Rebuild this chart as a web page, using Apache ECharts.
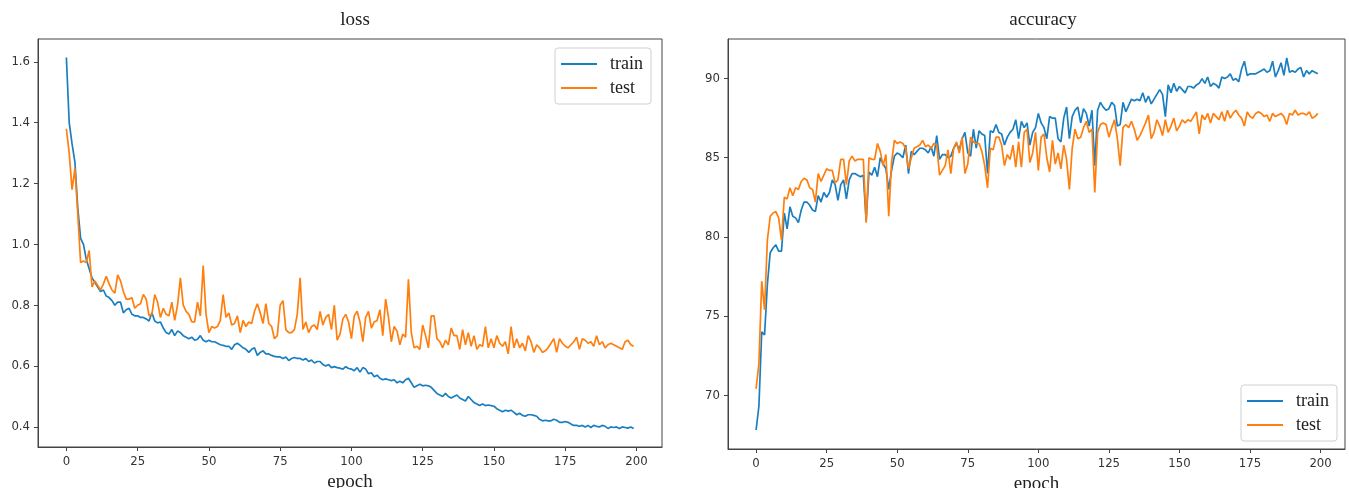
<!DOCTYPE html>
<html>
<head>
<meta charset="utf-8">
<script src="https://cdn.jsdelivr.net/npm/echarts@6/dist/echarts.min.js"></script>
<style>
  html, body { margin: 0; padding: 0; background: #fff; }
  #main { width: 1349px; height: 488px; }
</style>
</head>
<body>
<div id="main"></div>
<script>
// loss, epoch 0..199
var lossTrain = [
  1.614, 1.40, 1.33, 1.27, 1.12, 1.02, 1.00, 0.95, 0.92, 0.89,
  0.875, 0.86, 0.845, 0.85, 0.83, 0.825, 0.815, 0.80, 0.81, 0.81,
  0.775, 0.785, 0.79, 0.77, 0.765, 0.765, 0.76, 0.76, 0.755, 0.748,
  0.775, 0.748, 0.742, 0.745, 0.725, 0.71, 0.705, 0.72, 0.70, 0.715,
  0.71, 0.70, 0.695, 0.69, 0.695, 0.685, 0.688, 0.70, 0.685, 0.68,
  0.685, 0.68, 0.68, 0.675, 0.67, 0.668, 0.665, 0.665, 0.655, 0.67,
  0.675, 0.668, 0.66, 0.655, 0.645, 0.655, 0.66, 0.635, 0.645, 0.65,
  0.64, 0.64, 0.635, 0.632, 0.63, 0.63, 0.625, 0.63, 0.618, 0.625,
  0.628, 0.625, 0.625, 0.62, 0.625, 0.615, 0.62, 0.61, 0.615, 0.615,
  0.605, 0.60, 0.605, 0.595, 0.598, 0.595, 0.593, 0.59, 0.598, 0.592,
  0.59, 0.585, 0.595, 0.58, 0.595, 0.59, 0.575, 0.578, 0.565, 0.57,
  0.56, 0.555, 0.558, 0.555, 0.552, 0.555, 0.545, 0.55, 0.545, 0.555,
  0.56, 0.545, 0.53, 0.535, 0.54, 0.535, 0.537, 0.535, 0.53, 0.52,
  0.51, 0.505, 0.50, 0.51, 0.50, 0.495, 0.50, 0.505, 0.495, 0.49,
  0.485, 0.50, 0.49, 0.48, 0.475, 0.47, 0.475, 0.47, 0.472, 0.47,
  0.468, 0.46, 0.455, 0.45, 0.455, 0.452, 0.455, 0.448, 0.44, 0.445,
  0.438, 0.435, 0.44, 0.44, 0.438, 0.435, 0.425, 0.42, 0.422, 0.42,
  0.42, 0.425, 0.422, 0.415, 0.415, 0.418, 0.415, 0.41, 0.405, 0.405,
  0.402, 0.405, 0.40, 0.405, 0.398, 0.405, 0.402, 0.40, 0.405, 0.402,
  0.395, 0.40, 0.398, 0.40, 0.395, 0.40, 0.398, 0.396, 0.40, 0.395
];
var lossTest = [
  1.38, 1.30, 1.18, 1.25, 1.10, 0.94, 0.945, 0.94, 0.98, 0.86,
  0.88, 0.865, 0.85, 0.87, 0.895, 0.87, 0.85, 0.84, 0.90, 0.88,
  0.845, 0.82, 0.82, 0.825, 0.79, 0.80, 0.805, 0.835, 0.82, 0.765,
  0.77, 0.835, 0.81, 0.76, 0.79, 0.77, 0.765, 0.81, 0.75, 0.80,
  0.89, 0.80, 0.78, 0.77, 0.745, 0.745, 0.81, 0.765, 0.93, 0.77,
  0.71, 0.73, 0.725, 0.73, 0.75, 0.835, 0.76, 0.775, 0.735, 0.74,
  0.765, 0.71, 0.75, 0.73, 0.745, 0.74, 0.78, 0.805, 0.775, 0.74,
  0.805, 0.74, 0.73, 0.69, 0.70, 0.80, 0.815, 0.72, 0.71, 0.71,
  0.72, 0.77, 0.89, 0.72, 0.745, 0.71, 0.73, 0.735, 0.72, 0.78,
  0.735, 0.76, 0.77, 0.72, 0.80, 0.685, 0.705, 0.755, 0.77, 0.745,
  0.69, 0.765, 0.78, 0.745, 0.68, 0.76, 0.78, 0.725, 0.745, 0.75,
  0.785, 0.70, 0.82, 0.76, 0.68, 0.73, 0.715, 0.67, 0.705, 0.695,
  0.885, 0.71, 0.66, 0.665, 0.655, 0.735, 0.70, 0.66, 0.765, 0.765,
  0.69, 0.68, 0.66, 0.685, 0.67, 0.725, 0.70, 0.70, 0.655, 0.72,
  0.67, 0.71, 0.665, 0.70, 0.655, 0.67, 0.665, 0.73, 0.66, 0.69,
  0.66, 0.70, 0.675, 0.665, 0.68, 0.64, 0.73, 0.66, 0.69, 0.66,
  0.675, 0.65, 0.70, 0.68, 0.645, 0.67, 0.66, 0.645, 0.65, 0.66,
  0.675, 0.69, 0.645, 0.69, 0.675, 0.665, 0.66, 0.67, 0.68, 0.695,
  0.655, 0.69, 0.685, 0.675, 0.68, 0.665, 0.70, 0.67, 0.68, 0.66,
  0.67, 0.675, 0.67, 0.665, 0.66, 0.655, 0.68, 0.685, 0.67, 0.665
];
// accuracy, epoch 0..199
var accTrain = [
  67.8, 69.3, 74.0, 73.8, 77.0, 79.0, 79.3, 79.5, 79.1, 79.1,
  81.5, 80.5, 81.9, 81.3, 81.2, 80.9, 81.7, 82.2, 82.2, 82.0,
  81.7, 81.6, 82.6, 82.2, 82.8, 82.5, 82.8, 83.6, 83.3, 82.3,
  83.3, 83.6, 82.4, 83.6, 84.0, 84.0, 83.9, 83.8, 83.9, 81.0,
  84.1, 83.9, 84.4, 83.8, 85.0, 84.6, 84.3, 83.0, 84.2, 85.1,
  85.3, 85.2, 85.0, 85.8, 84.0, 85.4, 85.2, 85.4, 85.6, 85.6,
  85.5, 85.3, 85.7, 85.1, 86.4, 84.9, 85.2, 85.2, 85.0, 85.1,
  85.6, 85.9, 85.5, 86.2, 86.6, 85.3, 85.1, 86.8, 85.6, 86.7,
  86.5, 86.4, 84.0, 86.7, 86.6, 87.1, 86.6, 86.5, 85.8, 86.3,
  86.6, 86.8, 87.4, 86.2, 87.3, 86.9, 87.2, 85.8, 86.6, 86.9,
  87.8, 87.2, 86.9, 86.2, 87.6, 87.5, 87.5, 86.2, 86.0, 87.5,
  88.2, 86.2, 87.6, 88.0, 88.2, 87.2, 88.1, 87.8, 87.0, 88.0,
  84.5, 88.0, 88.5, 88.2, 88.0, 88.1, 88.5, 88.3, 87.0, 87.1,
  88.5, 87.9, 88.3, 88.7, 88.6, 88.7, 88.6, 89.1, 88.5, 88.9,
  88.4, 88.7, 89.0, 89.3, 89.0, 87.6, 89.6, 89.1, 89.7, 89.2,
  89.5, 89.3, 89.1, 89.5, 89.5, 89.4, 89.6, 89.7, 90.0, 89.7,
  90.1, 89.5, 89.7, 89.6, 89.4, 90.1, 90.0, 90.1, 90.3, 89.9,
  90.0, 89.8, 90.6, 91.1, 90.2, 90.3, 90.3, 90.3, 90.4, 90.5,
  90.6, 90.4, 90.5, 91.1, 90.1, 90.5, 91.0, 90.2, 91.3, 90.4,
  90.5, 90.4, 90.6, 90.7, 90.1, 90.5, 90.3, 90.5, 90.4, 90.3
];
var accTest = [
  70.4, 72.0, 77.2, 75.4, 79.8, 81.3, 81.5, 81.6, 81.2, 79.8,
  82.5, 82.4, 83.1, 82.6, 83.1, 83.0, 83.5, 83.7, 83.6, 83.1,
  83.0, 82.2, 84.0, 83.5, 83.9, 84.3, 84.2, 84.2, 83.4, 83.6,
  84.9, 84.9, 83.3, 84.8, 85.1, 84.8, 84.9, 84.9, 84.9, 80.9,
  85.0, 84.9, 84.9, 85.9, 85.4, 84.5, 85.2, 81.3, 84.7, 86.1,
  85.9, 86.0, 85.9, 85.6, 84.3, 85.0, 85.6, 85.7, 85.8, 86.1,
  85.7, 85.8, 85.6, 85.9, 85.8, 83.9, 84.2, 84.5, 85.5, 84.0,
  85.6, 86.0, 85.3, 86.3, 84.0, 84.6, 86.3, 86.0, 85.9, 85.9,
  85.4, 84.5, 83.1, 85.6, 85.5, 86.3, 86.3, 85.8, 84.5, 85.2,
  84.9, 85.8, 84.4, 86.0, 84.4, 86.6, 86.8, 84.7, 85.3, 86.6,
  84.2, 86.3, 86.5, 85.0, 84.1, 86.1, 84.6, 85.3, 84.3, 85.8,
  84.9, 83.0, 85.6, 86.8, 86.2, 86.3, 86.9, 87.3, 86.6, 86.8,
  82.8, 86.6, 87.1, 87.2, 87.1, 86.3, 86.9, 87.4, 86.2, 84.5,
  86.9, 87.1, 86.9, 87.3, 86.8, 86.1, 86.4, 86.8, 87.2, 87.7,
  86.2, 86.6, 87.4, 87.0, 86.4, 87.4, 86.6, 87.0, 87.5, 86.7,
  87.0, 87.4, 87.2, 87.4, 87.3, 87.6, 87.9, 86.5, 87.7, 87.4,
  87.8, 87.2, 87.8, 87.6, 87.4, 87.9, 87.3, 88.0, 87.5, 87.8,
  88.0, 87.7, 87.5, 87.0, 87.9, 87.6, 87.5, 87.8, 87.9, 87.8,
  87.6, 87.7, 87.3, 87.8, 87.6, 87.7, 87.8, 87.6, 87.1, 87.8,
  87.7, 88.0, 87.7, 87.8, 87.8, 87.7, 87.9, 87.5, 87.6, 87.8
];
var epochTicks = [0, 25, 50, 75, 100, 125, 150, 175, 200];
var lossTicks = [0.4, 0.6, 0.8, 1.0, 1.2, 1.4, 1.6];
var accTicks = [70, 75, 80, 85, 90];

var BLUE = '#1a7fc0';
var ORANGE = '#ff7f0e';
var serif = 'Liberation Serif';
var sans = '"DejaVu Sans Condensed", "Liberation Sans", sans-serif';

function pairs(arr) {
  return arr.map(function (v, i) { return [i, v]; });
}

function xAxisCfg(idx, max, gap) {
  return {
    type: 'value', gridIndex: idx, min: -9.95, max: max,
    name: 'epoch', nameLocation: 'middle', nameGap: gap,
    nameTextStyle: { fontFamily: serif, fontSize: 19, color: '#222' },
    axisLine: { show: true, onZero: false, lineStyle: { color: '#444', width: 1 } },
    axisTick: { show: true, length: 4, customValues: epochTicks, lineStyle: { color: '#444' } },
    axisLabel: { customValues: epochTicks, margin: 8, fontFamily: sans, fontSize: 13, color: '#333' },
    splitLine: { show: false }
  };
}

function yAxisCfg(idx, min, max, ticks, fmt) {
  return {
    type: 'value', gridIndex: idx, min: min, max: max,
    axisLine: { show: true, onZero: false, lineStyle: { color: '#444', width: 1 } },
    axisTick: { show: true, length: 4, customValues: ticks, lineStyle: { color: '#444' } },
    axisLabel: { customValues: ticks, margin: 8, fontFamily: sans, fontSize: 13, color: '#333', formatter: fmt },
    splitLine: { show: false }
  };
}

function lineSeries(name, data, color, idx) {
  return {
    name: name, type: 'line', xAxisIndex: idx, yAxisIndex: idx,
    data: pairs(data), showSymbol: false, symbol: 'none',
    lineStyle: { color: color, width: 1.7 }, itemStyle: { color: color },
    z: name === 'train' ? 2 : 3
  };
}

var legendBase = {
  orient: 'vertical', icon: 'rect', itemWidth: 36, itemHeight: 2, itemGap: 4,
  padding: [6, 8, 6, 6], borderColor: '#d0d0d0', borderWidth: 1, borderRadius: 3,
  backgroundColor: 'rgba(255,255,255,0.85)',
  textStyle: { fontFamily: serif, fontSize: 18, color: '#222', lineHeight: 20, padding: [0, 0, 0, 8] },
  data: ['train', 'test']
};

var chart = echarts.init(document.getElementById('main'));
chart.setOption({
  animation: false,
  backgroundColor: '#fff',
  title: [
    { text: 'loss', left: 350, top: 6, textAlign: 'center',
      textStyle: { fontFamily: serif, fontSize: 19, fontWeight: 'normal', color: '#222' } },
    { text: 'accuracy', left: 1038, top: 6, textAlign: 'center',
      textStyle: { fontFamily: serif, fontSize: 19, fontWeight: 'normal', color: '#222' } }
  ],
  legend: [
    Object.assign({}, legendBase, { left: 555, top: 48 }),
    Object.assign({}, legendBase, { left: 1241, top: 385 })
  ],
  grid: [
    { left: 38, top: 39, width: 624, height: 408, show: true, borderColor: '#444', borderWidth: 1,
      outerBoundsMode: 'none' },
    { left: 728, top: 39, width: 617, height: 410, show: true, borderColor: '#444', borderWidth: 1,
      outerBoundsMode: 'none' }
  ],
  xAxis: [xAxisCfg(0, 208.95, 22), xAxisCfg(1, 208.65, 22)],
  yAxis: [
    yAxisCfg(0, 0.334, 1.675, lossTicks, function (v) { return v.toFixed(1); }),
    yAxisCfg(1, 66.6, 92.5, accTicks, function (v) { return String(v); })
  ],
  series: [
    lineSeries('train', lossTrain, BLUE, 0),
    lineSeries('test', lossTest, ORANGE, 0),
    lineSeries('train', accTrain, BLUE, 1),
    lineSeries('test', accTest, ORANGE, 1)
  ]
});
</script>
</body>
</html>
